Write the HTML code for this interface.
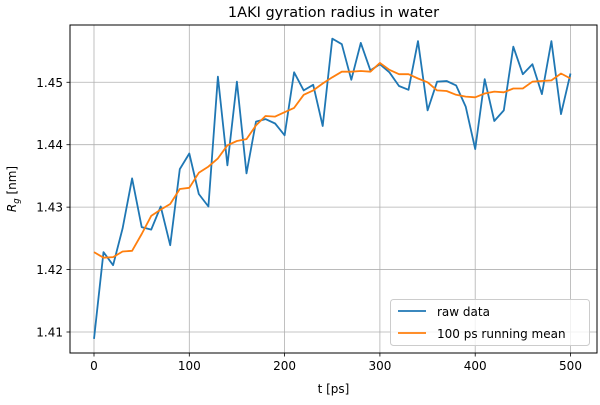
<!DOCTYPE html>
<html><head><meta charset="utf-8"><style>
body{margin:0;background:#fff;}
svg text{font-family:"DejaVu Sans","Liberation Sans",sans-serif;fill:#000;}
</style></head><body>
<svg id="chart" width="600" height="400" xmlns="http://www.w3.org/2000/svg">
<rect width="600" height="400" fill="#fff"/>
<g id="grid"></g>
<g id="series"></g>
<rect x="70" y="25" width="527" height="328" fill="none" stroke="#000" stroke-width="1"/>
<g id="ticks"></g>
<text x="333.5" y="17" font-size="14.5" text-anchor="middle">1AKI gyration radius in water</text>
<text x="333.5" y="393" font-size="12" text-anchor="middle">t [ps]</text>
<text transform="translate(16,189) rotate(-90)" font-size="12" text-anchor="middle"><tspan font-style="italic">R</tspan><tspan font-size="8.5" font-style="italic" dy="3">g</tspan><tspan dy="-3"> [nm]</tspan></text>
<g>
<rect x="390.5" y="299.5" width="199" height="46" rx="3" fill="#fff" fill-opacity="0.8" stroke="#ccc"/>
<line x1="398" y1="311" x2="426" y2="311" stroke="#1f77b4" stroke-width="1.8"/>
<text x="437" y="316" font-size="12">raw data</text>
<line x1="398" y1="333" x2="426" y2="333" stroke="#ff7f0e" stroke-width="1.8"/>
<text x="437" y="338" font-size="12">100 ps running mean</text>
</g>
</svg>
<script>
const times = [];
for (let i = 0; i <= 50; i++) times.push(i * 10);
const rawValues = [1.4089,1.4228,1.4207,1.4266,1.4346,1.4268,1.4264,1.4301,1.4239,1.4361,1.4386,1.4321,1.4301,1.4509,1.4367,1.4501,1.4354,1.4437,1.4441,1.4434,1.4415,1.4516,1.4487,1.4496,1.4430,1.4570,1.4561,1.4504,1.4563,1.4519,1.4529,1.4516,1.4494,1.4488,1.4566,1.4455,1.4501,1.4502,1.4495,1.4461,1.4393,1.4505,1.4438,1.4455,1.4557,1.4513,1.4529,1.4481,1.4566,1.4449,1.4514];
const meanValues = [1.4228,1.4219,1.4220,1.4229,1.4230,1.4257,1.4286,1.4296,1.4305,1.4329,1.4331,1.4355,1.4365,1.4378,1.4399,1.4406,1.4409,1.4431,1.4446,1.4445,1.4452,1.4459,1.4480,1.4487,1.4498,1.4508,1.4517,1.4517,1.4518,1.4517,1.4531,1.4520,1.4513,1.4513,1.4506,1.4500,1.4487,1.4486,1.4480,1.4477,1.4476,1.4482,1.4485,1.4484,1.4490,1.4490,1.4501,1.4502,1.4503,1.4514,1.4506];
const xTicks = [0,100,200,300,400,500];
const yTicks = [1.41,1.42,1.43,1.44,1.45];
const yTickLabels = ["1.41","1.42","1.43","1.44","1.45"];

const NS = "http://www.w3.org/2000/svg";
function xs(t){ return 94 + t * 0.953; }
function ys(v){ return 332 - (v - 1.41) * 6243; }
function mk(tag, attrs, parent){
  const e = document.createElementNS(NS, tag);
  for (const k in attrs) e.setAttribute(k, attrs[k]);
  parent.appendChild(e); return e;
}
const grid = document.getElementById('grid');
const ticks = document.getElementById('ticks');
const series = document.getElementById('series');
xTicks.forEach(t => {
  const x = xs(t);
  const g = mk('line', {x1:x, y1:25, x2:x, y2:353, stroke:'#b0b0b0', 'stroke-width':0.8}, grid);
  
  
  mk('line', {x1:x, y1:353, x2:x, y2:356.5, stroke:'#000', 'stroke-width':0.8}, ticks);
  const tx = mk('text', {x:x, y:370, 'font-size':12, 'text-anchor':'middle'}, ticks);
  tx.textContent = t;
  
  
});
yTicks.forEach((v, i) => {
  const y = ys(v);
  const g = mk('line', {x1:70, y1:y, x2:597, y2:y, stroke:'#b0b0b0', 'stroke-width':0.8}, grid);
  
  
  mk('line', {x1:66.5, y1:y, x2:70, y2:y, stroke:'#000', 'stroke-width':0.8}, ticks);
  const tx = mk('text', {x:63, y:y + 4.5, 'font-size':12, 'text-anchor':'end'}, ticks);
  tx.textContent = yTickLabels[i];
  
  
});
function pts(vals){ return vals.map((v, i) => xs(times[i]).toFixed(1) + ',' + ys(v).toFixed(1)).join(' '); }
const raw = mk('polyline', {points:pts(rawValues), fill:'none', stroke:'#1f77b4', 'stroke-width':1.8, 'stroke-linejoin':'round'}, series);


const mean = mk('polyline', {points:pts(meanValues), fill:'none', stroke:'#ff7f0e', 'stroke-width':1.8, 'stroke-linejoin':'round'}, series);


</script>
</body></html>
